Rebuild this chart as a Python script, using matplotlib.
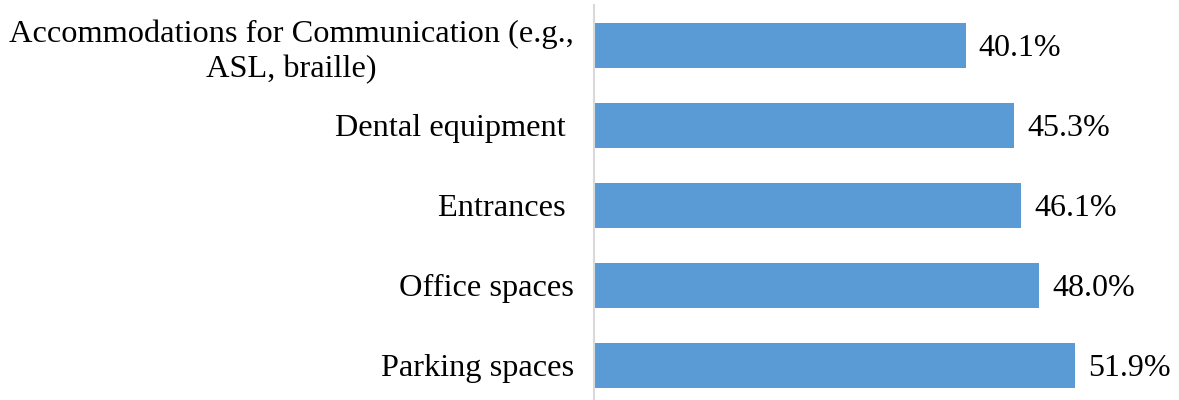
import matplotlib.pyplot as plt

categories = ['Accommodations for Communication (e.g.,\nASL, braille)',
              'Dental equipment ', 'Entrances ', 'Office spaces', 'Parking spaces']
values = [40.1, 45.3, 46.1, 48.0, 51.9]

plt.rcParams['font.family'] = ['Liberation Serif', 'DejaVu Serif']

fig = plt.figure(figsize=(11.79, 4.0), dpi=100)
ax = fig.add_axes([594 / 1179, 0.0, 1 - 594 / 1179, 395 / 400])

pos = list(range(len(categories)))
ax.barh(pos, values, height=0.5625, color='#5B9BD5')
for p, v in zip(pos, values):
    ax.text(v + 1.4, p, f'{v:.1f}%', va='center_baseline', ha='left', fontsize=23)

ax.set_yticks(pos)
ax.set_yticklabels(categories, fontsize=23.3, multialignment='center', linespacing=1.3)
ax.tick_params(axis='y', length=0, pad=14.5)
ax.set_xticks([])
ax.set_xlim(0, 63.1)
ax.set_ylim(4.4375, -0.5)

for s in ['top', 'right', 'bottom']:
    ax.spines[s].set_visible(False)
ax.spines['left'].set_color('#D9D9D9')
ax.spines['left'].set_linewidth(1.5)

fig.savefig('out.png', dpi=100)
